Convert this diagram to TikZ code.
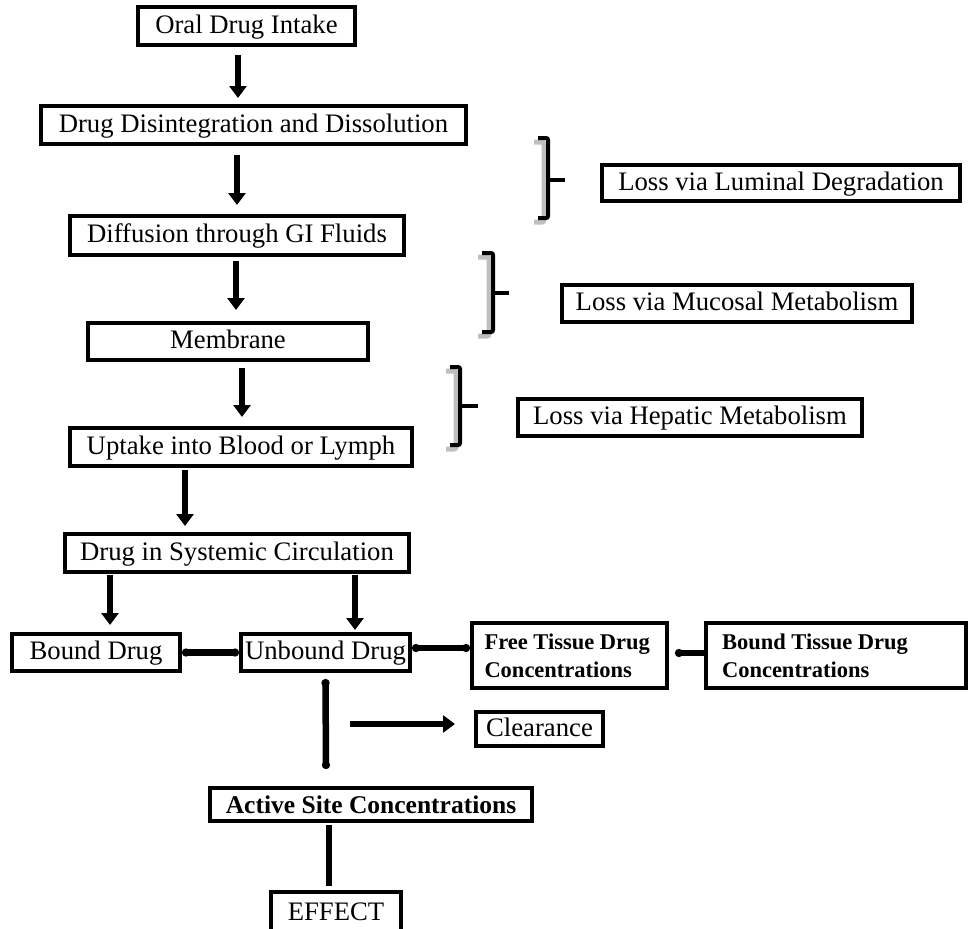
\documentclass[tikz,border=0pt]{standalone}
\usepackage{fontspec}
\setmainfont{Liberation Serif}
\usepackage{tikz}
\usetikzlibrary{arrows.meta,calc}
\tikzstyle{drugbox}=[rectangle, draw, line width=4pt, inner sep=2pt,% plain step of the pathway
text height=18pt, text depth=4pt, font=\fontsize{26.7}{28}\selectfont]
\tikzstyle{boldbox}=[rectangle, draw, line width=4pt, inner sep=2pt, align=flush left,% bold step
font=\fontsize{22.5}{28}\selectfont\bfseries]
\tikzstyle{flowarrow}=[-{Triangle[width=17pt,length=12pt]}, line width=6.5pt]
\tikzstyle{dotlink}=[{Circle[length=8pt]}-{Circle[length=8pt]}, line width=6.5pt]
\tikzstyle{losshook}=[line width=4pt, rounded corners=2pt]
\tikzstyle{hookshadow}=[line width=5pt, draw=black!25, rounded corners=2pt]

\begin{document}
\begin{tikzpicture}[x=1pt,y=-1pt]
\useasboundingbox (0,0) rectangle (970,929);
\node[drugbox, minimum width=217, minimum height=38] (oral) at (246.5,26) {Oral Drug Intake};
\node[drugbox, minimum width=425, minimum height=38] (disint) at (253.5,125) {Drug Disintegration and Dissolution};
\node[drugbox, minimum width=334, minimum height=39] (diffus) at (237,235.5) {Diffusion through GI Fluids};
\node[drugbox, minimum width=280, minimum height=37] (membr) at (228,341.5) {Membrane};
\node[drugbox, minimum width=342, minimum height=38] (uptake) at (241,447) {Uptake into Blood or Lymph};
\node[drugbox, minimum width=344, minimum height=38] (system) at (237,553) {Drug in Systemic Circulation};
\node[drugbox, minimum width=168, minimum height=37] (bound) at (96,652.5) {Bound Drug};
\node[drugbox, minimum width=169, minimum height=37] (unbound) at (325.5,652.5) {Unbound Drug};
\node[boldbox, inner xsep=12.5pt, text width=170pt, minimum height=65] (freetis) at (569.5,655.5) {Free Tissue Drug\\Concentrations};
\node[boldbox, inner xsep=16pt, text width=228pt, minimum height=65] (boundtis) at (836,655.5) {Bound Tissue Drug\\Concentrations};
\node[drugbox, minimum width=127, minimum height=34] (clear) at (539.5,729) {Clearance};
\node[boldbox, minimum width=322, minimum height=33, font=\fontsize{25.5}{28}\selectfont\bfseries] (active) at (371,804.5) {Active Site Concentrations};
\node[drugbox, minimum width=130, minimum height=42] (effect) at (336,913) {EFFECT};
\node[drugbox, minimum width=358, minimum height=36] (luminal) at (781,183) {Loss via Luminal Degradation};
\node[drugbox, minimum width=350, minimum height=37] (mucosal) at (737,303.5) {Loss via Mucosal Metabolism};
\node[drugbox, minimum width=344, minimum height=37] (hepatic) at (690,417.5) {Loss via Hepatic Metabolism};
\coordinate (clrstart) at (350,724);

\draw[flowarrow] ([xshift=-8.5pt,yshift=-8pt]oral.south) -- ([xshift=-15.5pt,yshift=6pt]disint.north);
\draw[flowarrow] ([xshift=-16.5pt,yshift=-9pt]disint.south) -- ([yshift=9pt]diffus.north);
\draw[flowarrow] ([xshift=-1pt,yshift=-4pt]diffus.south) -- ([xshift=8pt,yshift=11pt]membr.north);
\draw[flowarrow] ([xshift=14pt,yshift=-6pt]membr.south) -- ([xshift=1pt,yshift=9pt]uptake.north);
\draw[flowarrow] ([xshift=-56pt,yshift=-2pt]uptake.south) -- ([xshift=-52pt,yshift=6pt]system.north);
\draw[flowarrow] ([xshift=-127pt,yshift=-1pt]system.south) -- ([xshift=14pt,yshift=7pt]bound.north);
\draw[flowarrow] ([xshift=118pt,yshift=-1pt]system.south) -- ([xshift=29.5pt,yshift=2pt]unbound.north);
\draw[dotlink] (bound.east) -- (unbound.west);
\draw[dotlink] ([yshift=4.5pt]unbound.east) -- ([yshift=7.5pt]freetis.west);
\draw[{Circle[length=8pt]}-, line width=6.5pt] ([xshift=6pt,yshift=2.5pt]freetis.east) -- ([yshift=2.5pt]boundtis.west);
\draw[dotlink] ([yshift=-6pt]unbound.south) -- ([xshift=-45pt,yshift=17pt]active.north);
\draw[flowarrow] (clrstart) -- ([xshift=-19pt,yshift=5pt]clear.west);
\draw[line width=6.5pt] ([xshift=-42pt,yshift=-2pt]active.south) -- ([xshift=-7pt,yshift=4pt]effect.north);

% brackets for the losses
\draw[hookshadow] (534,142) -- (544,142) -- (544,222) -- (534,222);
\draw[losshook] (538,138) -- (548,138) -- (548,218) -- (538,218);
\draw[losshook] (548,180) -- (565,180);
\draw[hookshadow] (478,257) -- (489,257) -- (489,336) -- (478,336);
\draw[losshook] (482,253) -- (493,253) -- (493,332) -- (482,332);
\draw[losshook] (493,293) -- (509,293);
\draw[hookshadow] (446,371) -- (456,371) -- (456,449) -- (446,449);
\draw[losshook] (450,367) -- (460,367) -- (460,445) -- (450,445);
\draw[losshook] (460,406) -- (478,406);
\end{tikzpicture}
\end{document}
